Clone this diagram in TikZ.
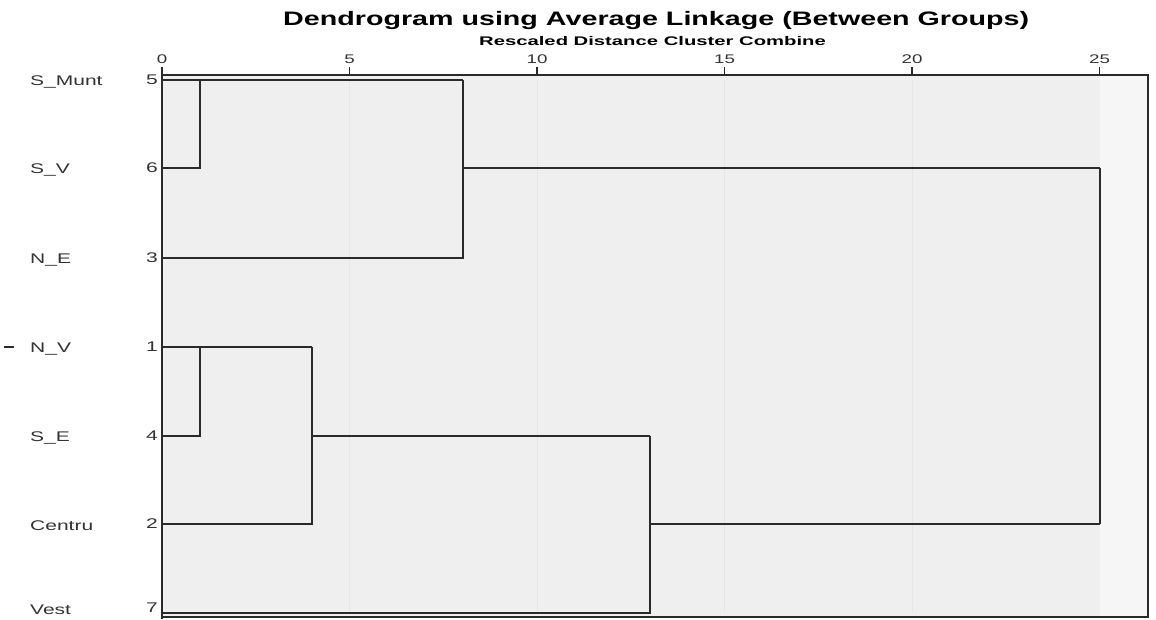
\documentclass[tikz,border=0pt]{standalone}
\usepackage{fontspec}
\setmainfont{Liberation Sans}
\newfontfamily\lblfont[FakeStretch=1.5]{Liberation Sans}
\newfontfamily\titlefont[FakeStretch=1.47]{Liberation Sans}
\newfontfamily\subfont[FakeStretch=1.62]{Liberation Sans}
\definecolor{plotbg}{HTML}{EFEFEF}
\definecolor{gridc}{HTML}{E6E6E6}
\definecolor{linec}{HTML}{2A2A2A}
\definecolor{txtc}{HTML}{333333}
\begin{document}
\begin{tikzpicture}[x=1pt,y=-1pt,
  link/.style={draw=linec,line width=1.8pt},
  frame/.style={draw=linec,line width=1.4pt},
  leaf/.style={anchor=west,inner sep=0pt,font=\lblfont\fontsize{14}{14}\selectfont,text=txtc},
  num/.style={anchor=east,inner sep=0pt,font=\lblfont\fontsize{14}{14}\selectfont,text=txtc},
  ticklab/.style={anchor=base,inner sep=0pt,font=\lblfont\fontsize{12.5}{12.5}\selectfont,text=txtc}]
\useasboundingbox (0,0) rectangle (1156,619);
\fill[white] (0,0) rectangle (1156,619);
\fill[plotbg] (162,75) rectangle (1148,617);
\fill[white!45!plotbg] (1100,75) rectangle (1148,617);
\foreach \v in {5,10,15,20}{\draw[gridc,line width=1pt] ({162+37.5*\v},80) -- ({162+37.5*\v},612);}
\draw[frame] (162,75) rectangle (1148,617);
\draw[linec,line width=2pt] (162,70) -- (162,619);
% title
\node[font=\titlefont\bfseries\fontsize{19.5}{19.5}\selectfont,inner sep=0pt,anchor=base west] (title) at (283,25) {Dendrogram using Average Linkage (Between Groups)};
\node[font=\subfont\bfseries\fontsize{12.5}{12.5}\selectfont,inner sep=0pt,anchor=base west] (sub) at (479,45) {Rescaled Distance Cluster Combine};
% ticks
\foreach \v in {0,5,10,15,20,25}{
  \draw[linec,line width=1.4pt] ({162+37.5*\v},75) -- ({162+37.5*\v},67);
  \node[ticklab] (t\v) at ({162+37.5*\v},63) {\v};
}
% leaves
\foreach \lab/\n/\y/\ly in {S\_Munt/5/80/82, S\_V/6/168/170, N\_E/3/258/260, N\_V/1/347/349, S\_E/4/436/438, Centru/2/524/526, Vest/7/613/610}{
  \node[leaf] (lab\n) at (30,\ly) {\lab};
  \node[num] (num\n) at (158,\ly-2) {\n};
  \coordinate (L\n) at (162,\y);
}
\draw[linec,line width=1.2pt] (4,347) -- (14,347);
% merge points
\coordinate (c1) at (200,80);
\coordinate (c2) at (463,80);
\coordinate (c2m) at (463,168);
\coordinate (c5) at (1100,168);
\coordinate (c3) at (200,347);
\coordinate (c4) at (312,347);
\coordinate (c4m) at (312,436);
\coordinate (c6) at (650,436);
\coordinate (c6m) at (650,524);
\coordinate (c7) at (1100,524);
% links
\draw[link] (L6) -| (c1);
\draw[link] (L5) -- (c2);
\draw[link] (L3) -| (c2);
\draw[link] (c2m) -- (c5);
\draw[link] (L4) -| (c3);
\draw[link] (L1) -- (c4);
\draw[link] (L2) -| (c4);
\draw[link] (c4m) -- (c6);
\draw[link] (L7) -| (c6);
\draw[link] (c6m) -- (c7);
\draw[link] (c5) -- (c7);
\end{tikzpicture}
\end{document}
